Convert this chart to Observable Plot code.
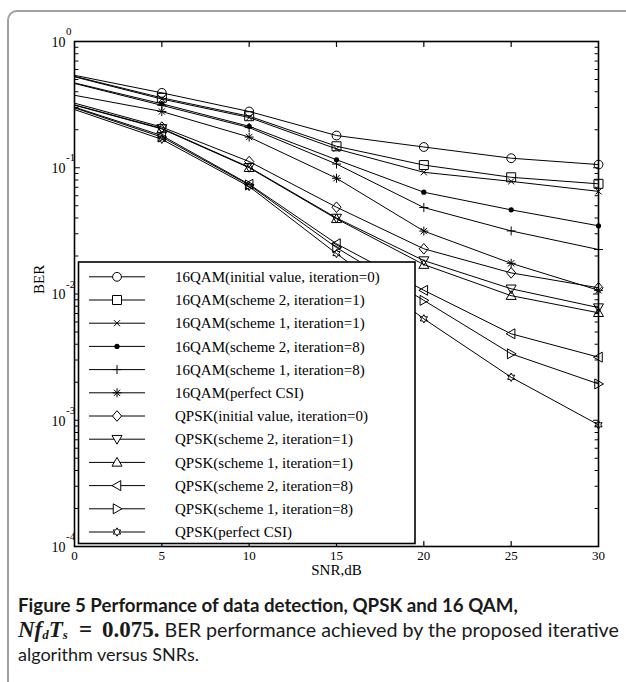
<!DOCTYPE html>
<html><head><meta charset="utf-8">
<script src="https://cdn.jsdelivr.net/npm/d3@7"></script>
<script src="https://cdn.jsdelivr.net/npm/@observablehq/plot@0.6"></script>
<style>
html,body{margin:0;padding:0;background:#fff;}
body{width:626px;height:682px;overflow:hidden;position:relative;}
#card{position:absolute;left:7px;top:10px;width:700px;height:800px;border:2px solid #a0a0a0;border-radius:10px;box-sizing:border-box;}
#chart{position:absolute;left:0;top:0;}
#caption{position:absolute;left:18px;top:593px;width:610px;font-family:Lato,"Open Sans",sans-serif;font-size:18px;color:#1a1a1a;white-space:nowrap;}
#caption .ln{height:24.5px;line-height:24.5px;overflow:visible;}
#caption b{font-weight:700;}
#caption .l1{font-size:18.7px;}
#caption .m{font-family:"Liberation Serif",serif;font-weight:700;font-size:23px;line-height:20px;}
#caption .m .sb{font-size:13px;line-height:0;vertical-align:-2px;}
#caption .eq{margin:0 10px 0 11px;}
#caption .r2{font-size:19.7px;}
</style>
</head><body>
<div id="card"></div>
<div id="chart"></div>
<div id="caption">
<div class="ln"><b class="l1">Figure 5 Performance of data detection, QPSK and 16 QAM,</b></div>
<div class="ln"><span class="m"><i>Nf<span class="sb">d</span>T<span class="sb">s</span></i><span class="eq">=</span>0.075.</span><span class="r2"> BER performance achieved by the proposed iterative</span></div>
<div class="ln">algorithm versus SNRs.</div>
</div>
<script>
// ---- data ----
const snr = [0, 5, 10, 15, 20, 25, 30];
const seriesNames = [
  "16QAM(initial value, iteration=0)",
  "16QAM(scheme 2, iteration=1)",
  "16QAM(scheme 1, iteration=1)",
  "16QAM(scheme 2, iteration=8)",
  "16QAM(scheme 1, iteration=8)",
  "16QAM(perfect CSI)",
  "QPSK(initial value, iteration=0)",
  "QPSK(scheme 2, iteration=1)",
  "QPSK(scheme 1, iteration=1)",
  "QPSK(scheme 2, iteration=8)",
  "QPSK(scheme 1, iteration=8)",
  "QPSK(perfect CSI)"
];
const qam16Init    = [0.54, 0.392, 0.279, 0.180, 0.146, 0.119, 0.106];
const qam16S2It1   = [0.53, 0.358, 0.256, 0.148, 0.105, 0.084, 0.0746];
const qam16S1It1   = [0.525, 0.350, 0.250, 0.141, 0.092, 0.078, 0.065];
const qam16S2It8   = [0.47, 0.321, 0.213, 0.1157, 0.064, 0.0464, 0.0347];
const qam16S1It8   = [0.465, 0.312, 0.208, 0.107, 0.0484, 0.0316, 0.0225];
const qam16Perfect = [0.375, 0.279, 0.175, 0.0826, 0.0315, 0.0175, 0.0107];
const qpskInit     = [0.325, 0.21, 0.112, 0.0487, 0.0228, 0.0147, 0.0112];
const qpskS2It1    = [0.315, 0.205, 0.101, 0.0400, 0.0184, 0.0110, 0.0078];
const qpskS1It1    = [0.313, 0.203, 0.100, 0.0394, 0.0171, 0.0097, 0.0071];
const qpskS2It8    = [0.302, 0.180, 0.074, 0.0250, 0.0107, 0.00484, 0.00316];
const qpskS1It8    = [0.298, 0.175, 0.073, 0.0233, 0.0089, 0.00336, 0.00194];
const qpskPerfect  = [0.289, 0.168, 0.071, 0.0209, 0.00636, 0.00219, 0.00092];
const seriesValues = [qam16Init, qam16S2It1, qam16S1It1, qam16S2It8, qam16S1It8, qam16Perfect,
                      qpskInit, qpskS2It1, qpskS1It1, qpskS2It8, qpskS1It8, qpskPerfect];
const xTicks = [0, 5, 10, 15, 20, 25, 30];
const yMajor = [1, 0.1, 0.01, 0.001, 0.0001];
const yExpLabels = ["0", "-1", "-2", "-3", "-4"];
const yMinor = [];
for (const d of [1e-4, 1e-3, 1e-2, 1e-1]) for (let k = 2; k <= 9; k++) yMinor.push(k * d);
const xLabel = "SNR,dB";
const yLabel = "BER";

// ---- symbols ----
const R = size => Math.sqrt(size / Math.PI);
const sym = {
  circle: {draw(c, s) { const r = R(s); c.moveTo(r, 0); c.arc(0, 0, r, 0, 2 * Math.PI); }},
  square: {draw(c, s) { const r = R(s); c.moveTo(-r, -r); c.lineTo(r, -r); c.lineTo(r, r); c.lineTo(-r, r); c.closePath(); }},
  times:  {draw(c, s) { const r = R(s) * 0.75; c.moveTo(-r, -r); c.lineTo(r, r); c.moveTo(-r, r); c.lineTo(r, -r); }},
  dot:    {draw(c, s) { const r = R(s); c.moveTo(r, 0); c.arc(0, 0, r, 0, 2 * Math.PI); }},
  plus:   {draw(c, s) { const r = R(s); c.moveTo(-r, 0); c.lineTo(r, 0); c.moveTo(0, -r); c.lineTo(0, r); }},
  aster:  {draw(c, s) { const r = R(s), q = r * 0.7; c.moveTo(-r, 0); c.lineTo(r, 0); c.moveTo(0, -r); c.lineTo(0, r); c.moveTo(-q, -q); c.lineTo(q, q); c.moveTo(-q, q); c.lineTo(q, -q); }},
  diamond:{draw(c, s) { const r = R(s); c.moveTo(0, -r * 1.15); c.lineTo(r, 0); c.lineTo(0, r * 1.15); c.lineTo(-r, 0); c.closePath(); }},
  triDown:{draw(c, s) { const r = R(s); c.moveTo(0, r); c.lineTo(r, -r * 0.75); c.lineTo(-r, -r * 0.75); c.closePath(); }},
  triUp:  {draw(c, s) { const r = R(s); c.moveTo(0, -r); c.lineTo(r, r * 0.75); c.lineTo(-r, r * 0.75); c.closePath(); }},
  triLeft:{draw(c, s) { const r = R(s); c.moveTo(-r, 0); c.lineTo(r * 0.75, -r); c.lineTo(r * 0.75, r); c.closePath(); }},
  triRight:{draw(c, s) { const r = R(s); c.moveTo(r, 0); c.lineTo(-r * 0.75, -r); c.lineTo(-r * 0.75, r); c.closePath(); }},
  hexa:   {draw(c, s) { const r = R(s), ri = r * 0.55; for (let i = 0; i < 12; i++) { const a = -Math.PI / 2 + i * Math.PI / 6; const rr = i % 2 ? ri : r; const x = rr * Math.cos(a), y = rr * Math.sin(a); i ? c.lineTo(x, y) : c.moveTo(x, y); } c.closePath(); }}
};
const style = [
  {s: sym.circle, r: 4.4, fill: "none"},
  {s: sym.square, r: 4.5, fill: "none"},
  {s: sym.times, r: 4, fill: "none"},
  {s: sym.dot, r: 2.6, fill: "black"},
  {s: sym.plus, r: 4.5, fill: "none"},
  {s: sym.aster, r: 4.5, fill: "none"},
  {s: sym.diamond, r: 4.6, fill: "none"},
  {s: sym.triDown, r: 5, fill: "none"},
  {s: sym.triUp, r: 5, fill: "none"},
  {s: sym.triLeft, r: 5, fill: "none"},
  {s: sym.triRight, r: 5, fill: "none"},
  {s: sym.hexa, r: 4.2, fill: "none"}
];

const rows = [];
seriesNames.forEach((name, i) => snr.forEach((x, j) => rows.push({series: name, idx: i, snr: x, ber: seriesValues[i][j]})));

const tickShape = {draw(c, l) { c.moveTo(0, 0); c.lineTo(0, -l); }};

const W = 626, H = 585, mL = 74, mR = 28, mT = 41, mB = 39;
const marks = [
  Plot.line(rows, {x: "snr", y: "ber", z: "series", stroke: "black", strokeWidth: 1})
];
seriesNames.forEach((name, i) => {
  marks.push(Plot.dot(rows.filter(d => d.idx === i && d.snr > 0),
    {x: "snr", y: "ber", symbol: style[i].s, r: style[i].r, fill: style[i].fill,
     stroke: style[i].fill === "black" ? "none" : "black", strokeWidth: 1}));
});
marks.push(
  // inward ticks
  Plot.vector(xTicks.slice(1, -1), {x: d => d, frameAnchor: "bottom", length: 5, rotate: 0, anchor: "start", shape: tickShape, stroke: "black", strokeWidth: 1.2}),
  Plot.vector(xTicks.slice(1, -1), {x: d => d, frameAnchor: "top", length: 5, rotate: 180, anchor: "start", shape: tickShape, stroke: "black", strokeWidth: 1.2}),
  Plot.vector(yMinor, {y: d => d, frameAnchor: "left", length: 3.5, rotate: 90, anchor: "start", shape: tickShape, stroke: "black", strokeWidth: 1}),
  Plot.vector(yMinor, {y: d => d, frameAnchor: "right", length: 3.5, rotate: -90, anchor: "start", shape: tickShape, stroke: "black", strokeWidth: 1}),
  Plot.vector(yMajor, {y: d => d, frameAnchor: "left", length: 5, rotate: 90, anchor: "start", shape: tickShape, stroke: "black", strokeWidth: 1.2}),
  Plot.vector(yMajor, {y: d => d, frameAnchor: "right", length: 5, rotate: -90, anchor: "start", shape: tickShape, stroke: "black", strokeWidth: 1.2}),
  Plot.frame({stroke: "black", strokeWidth: 1.6}),
  // tick labels
  Plot.text(xTicks, {x: d => d, frameAnchor: "bottom", dy: 13.5, text: d => String(d), fontSize: 13}),
  Plot.text(yMajor, {y: d => d, frameAnchor: "left", dx: -9, dy: 1, textAnchor: "end", text: () => "10", fontSize: 14}),
  Plot.text(yMajor, {y: d => d, frameAnchor: "left", dx: -8.5, dy: -10, textAnchor: "start", text: (d, i) => yExpLabels[i], fontSize: 11}),
  Plot.text([xLabel], {frameAnchor: "bottom", dy: 28.5, text: d => d, fontSize: 15}),
  Plot.text([yLabel], {frameAnchor: "left", dx: -35, rotate: -90, text: d => d, fontSize: 15})
);

const chart = Plot.plot({
  width: W, height: H, marginLeft: mL, marginRight: mR, marginTop: mT, marginBottom: mB,
  x: {domain: [0, 30], axis: null},
  y: {type: "log", domain: [1e-4, 1], axis: null},
  style: {fontFamily: "'Liberation Serif', serif", fontSize: "14px", color: "black", background: "transparent", overflow: "visible"},
  marks
});
document.getElementById("chart").appendChild(chart);

// ---- legend (inside the axes, lower-left) ----
const svg = d3.select(chart);
const lg = svg.append("g").attr("class", "legend").attr("text-anchor", "start");
const box = {x: 78.5, y: 262, w: 336.5, h: 281.5};
lg.append("rect").attr("x", box.x).attr("y", box.y).attr("width", box.w).attr("height", box.h)
  .attr("fill", "white").attr("stroke", "black").attr("stroke-width", 1.6);
const rowY0 = 276.8, rowDY = 23.2;
seriesNames.forEach((name, i) => {
  const y = rowY0 + i * rowDY;
  lg.append("line").attr("x1", 89).attr("x2", 145).attr("y1", y).attr("y2", y).attr("stroke", "black").attr("stroke-width", 1);
  const p = d3.path();
  style[i].s.draw(p, Math.PI * style[i].r * style[i].r);
  lg.append("path").attr("d", p.toString()).attr("transform", `translate(117,${y})`)
    .attr("fill", style[i].fill === "black" ? "black" : "white").attr("stroke", style[i].fill === "black" ? "none" : "black").attr("stroke-width", 1);
  lg.append("text").attr("x", 175).attr("y", y).attr("dy", "0.35em").attr("text-anchor", "start")
    .attr("font-family", "'Liberation Serif', serif").attr("font-size", 15).attr("fill", "black").text(name);
});
</script>
</body></html>
